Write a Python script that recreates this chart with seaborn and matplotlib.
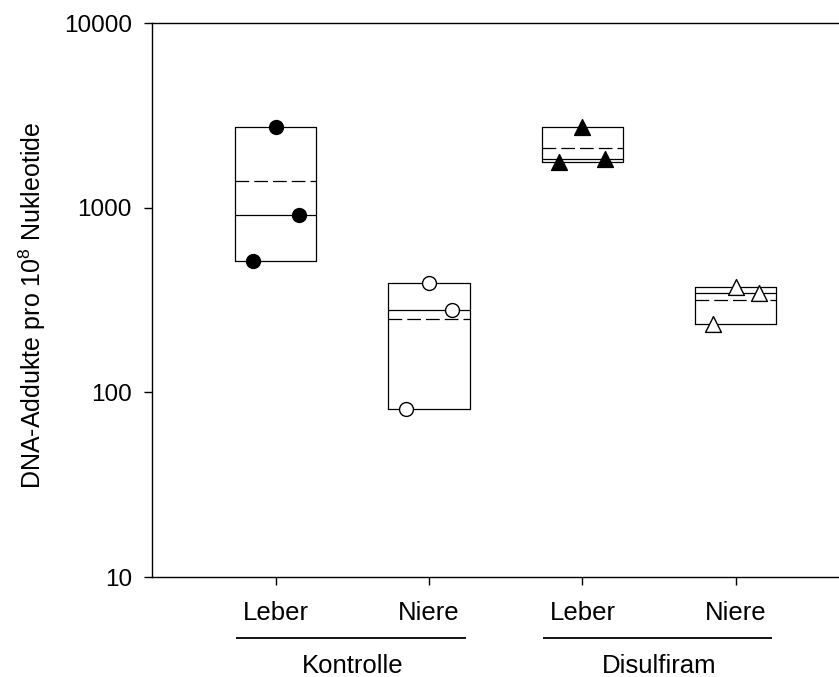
import numpy as np
import pandas as pd
import matplotlib
matplotlib.use("Agg")
import matplotlib.pyplot as plt
import matplotlib.transforms as mtransforms
from matplotlib.ticker import FixedLocator, NullLocator
import seaborn as sns

# ---- data ----
groups = ["Kontrolle Leber", "Kontrolle Niere", "Disulfiram Leber", "Disulfiram Niere"]
tick_labels = ["Leber", "Niere", "Leber", "Niere"]
treatments = ["Kontrolle", "Disulfiram"]
kontrolle_leber = [514, 2735, 913]
kontrolle_niere = [81.3, 393, 278]
disulfiram_leber = [1774, 2735, 1841]
disulfiram_niere = [234, 372, 344]
jitter = [-0.15, 0.0, 0.15]
y_ticks = [10, 100, 1000, 10000]

series = [kontrolle_leber, kontrolle_niere, disulfiram_leber, disulfiram_niere]
positions = [1, 2, 3, 4]

sns.set_theme(style="ticks")
plt.rcParams["font.family"] = ["Liberation Sans", "DejaVu Sans"]
plt.rcParams["mathtext.fontset"] = "custom"
plt.rcParams["mathtext.rm"] = "Liberation Sans"

fig = plt.figure(figsize=(8.39, 6.77), dpi=100)
ax = fig.add_axes([152 / 839, 1 - 577 / 677, 1 - 152 / 839 + 0.01, 554 / 677])

# boxes: min..max, solid median, dashed mean
stats = []
for vals in series:
    v = np.asarray(vals, dtype=float)
    stats.append(dict(q1=v.min(), q3=v.max(), med=np.median(v), mean=v.mean(),
                      whislo=v.min(), whishi=v.max(), fliers=[]))
ax.bxp(stats, positions=positions, widths=0.53, showcaps=False, showfliers=False,
       showmeans=True, meanline=True, patch_artist=False,
       boxprops=dict(color="black", linewidth=0.9),
       whiskerprops=dict(color="black", linewidth=0.9),
       medianprops=dict(color="black", linewidth=0.9),
       meanprops=dict(color="black", linewidth=0.9, linestyle=(0, (11, 4))),
       manage_ticks=False)

# points
rows = []
for g, p, vals in zip(groups, positions, series):
    for j, v in zip(jitter, vals):
        rows.append(dict(group=g, x=p + j, y=v))
df = pd.DataFrame(rows)
styles = {
    "Kontrolle Leber": ("o", "black", 100),
    "Kontrolle Niere": ("o", "white", 100),
    "Disulfiram Leber": ("^", "black", 130),
    "Disulfiram Niere": ("^", "white", 130),
}
for g in groups:
    m, fc, s = styles[g]
    sns.scatterplot(data=df[df.group == g], x="x", y="y", marker=m, s=s,
                    color=fc, edgecolor="black", linewidth=1.0, ax=ax,
                    zorder=5, legend=False)

ax.set_yscale("log")
ax.set_ylim(10, 10000)
ax.set_xlim(0.1925, 4.7286)
ax.yaxis.set_major_locator(FixedLocator(y_ticks))
ax.yaxis.set_minor_locator(NullLocator())
ax.set_yticklabels([str(t) for t in y_ticks])
ax.set_xticks(positions)
ax.set_xticklabels(tick_labels)
ax.xaxis.set_minor_locator(NullLocator())

ax.tick_params(axis="both", direction="out", length=5.5, width=1, color="black",
               labelcolor="black")
ax.tick_params(axis="y", labelsize=17.5, pad=9)
ax.tick_params(axis="x", labelsize=18.5, pad=12)
for side in ["left", "bottom", "top"]:
    ax.spines[side].set_visible(True)
    ax.spines[side].set_color("black")
    ax.spines[side].set_linewidth(1.0)
ax.spines["right"].set_visible(False)

ax.set_xlabel("")
ax.set_ylabel("DNA-Addukte pro 10$^{8}$ Nukleotide", fontsize=18, color="black")
ax.yaxis.set_label_coords(-0.149, 0.491)

trans = mtransforms.blended_transform_factory(ax.transData, ax.transAxes)
for i, t in enumerate(treatments):
    a, b = positions[2 * i], positions[2 * i + 1]
    ax.plot([a - 0.26, b + 0.24], [-0.1096, -0.1096], color="black", linewidth=1.3,
            transform=trans, clip_on=False, solid_capstyle="butt")
    ax.text((a + b) / 2, -0.1606, t, transform=trans, ha="center", va="center",
            fontsize=18.5, color="black")

fig.savefig("out.png", dpi=100)
